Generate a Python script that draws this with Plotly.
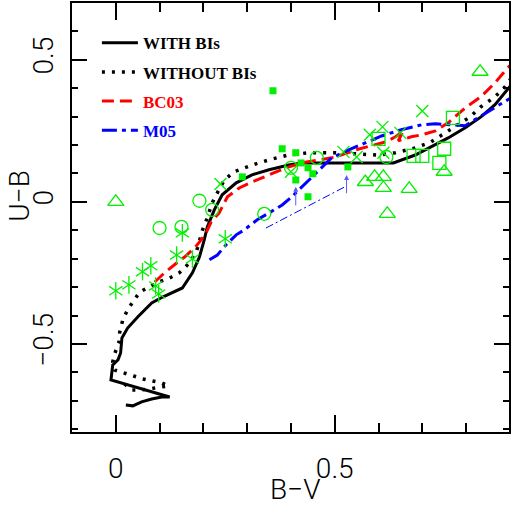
import plotly.graph_objects as go

# ---- model tracks in the (B-V, U-B) plane ----
bv_with = [0.023, 0.039, 0.059, 0.082, 0.105, 0.123, -0.011, -0.007, 0.005, 0.011,
           0.014, 0.027, 0.050, 0.082, 0.107, 0.130, 0.152, 0.175, 0.191, 0.202,
           0.209, 0.225, 0.243, 0.275, 0.311, 0.350, 0.395, 0.425, 0.502, 0.634,
           0.684, 0.720, 0.759, 0.798, 0.834, 0.866, 0.889, 0.918]
ub_with = [-0.715, -0.718, -0.704, -0.694, -0.687, -0.687, -0.627, -0.574, -0.556, -0.532,
           -0.479, -0.444, -0.405, -0.356, -0.335, -0.320, -0.303, -0.250, -0.194, -0.134,
           -0.088, -0.028, 0.025, 0.067, 0.095, 0.113, 0.130, 0.137, 0.137, 0.137,
           0.165, 0.194, 0.225, 0.261, 0.299, 0.342, 0.384, 0.440]

bv_without = [0.020, 0.036, 0.059, 0.077, 0.100, 0.120, 0.105, 0.082, 0.061, 0.041,
              0.020, -0.002, -0.007, -0.002, 0.007, 0.009, 0.016, 0.027, 0.039, 0.055,
              0.093, 0.123, 0.145, 0.168, 0.184, 0.198, 0.209, 0.220, 0.232, 0.248,
              0.270, 0.298, 0.320, 0.357, 0.395, 0.441, 0.502, 0.548, 0.600, 0.639,
              0.684, 0.720, 0.752, 0.782, 0.809, 0.834, 0.866, 0.889, 0.907]
ub_without = [-0.641, -0.662, -0.662, -0.658, -0.651, -0.648, -0.637, -0.630, -0.623, -0.613,
              -0.602, -0.592, -0.563, -0.532, -0.496, -0.458, -0.415, -0.380, -0.352, -0.317,
              -0.285, -0.268, -0.250, -0.215, -0.176, -0.099, -0.056, -0.004, 0.032, 0.077,
              0.106, 0.123, 0.134, 0.151, 0.165, 0.173, 0.173, 0.169, 0.165, 0.173,
              0.190, 0.211, 0.243, 0.271, 0.299, 0.335, 0.370, 0.405, 0.444]

bv_bc03 = [0.089, 0.111, 0.139, 0.157, 0.180, 0.195, 0.207, 0.218, 0.236, 0.243,
           0.255, 0.282, 0.311, 0.350, 0.389, 0.425, 0.464, 0.502, 0.548, 0.577,
           0.616, 0.639, 0.657, 0.645, 0.675, 0.698, 0.730, 0.759, 0.798, 0.834,
           0.866, 0.895, 0.914]
ub_bc03 = [-0.282, -0.250, -0.215, -0.194, -0.162, -0.134, -0.106, -0.070, -0.039, -0.018,
           0.018, 0.049, 0.070, 0.095, 0.120, 0.137, 0.148, 0.158, 0.183, 0.194,
           0.211, 0.229, 0.250, 0.215, 0.229, 0.236, 0.250, 0.278, 0.331, 0.370,
           0.419, 0.472, 0.500]

bv_m05 = [0.214, 0.232, 0.252, 0.275, 0.293, 0.323, 0.350, 0.380, 0.402, 0.418,
          0.457, 0.493, 0.532, 0.577, 0.607, 0.652, 0.698, 0.730, 0.764, 0.798,
          0.827, 0.857, 0.889, 0.914]
ub_m05 = [-0.204, -0.187, -0.151, -0.116, -0.099, -0.063, -0.039, -0.011, 0.018, 0.042,
          0.102, 0.155, 0.183, 0.211, 0.232, 0.254, 0.271, 0.275, 0.271, 0.268,
          0.296, 0.324, 0.352, 0.377]

# thin M05 branch and the two shift arrows
bv_m05_thin = [0.343, 0.527]
ub_m05_thin = [-0.092, 0.056]
arrow_bv = [0.411, 0.527]
arrow_ub_from = [-0.018, 0.025]
arrow_ub_to = [0.053, 0.095]

# ---- observed clusters ----
bv_filled_sq = [0.359, 0.289, 0.380, 0.411, 0.423, 0.439, 0.450, 0.411, 0.439, 0.530]
ub_filled_sq = [0.391, 0.088, 0.187, 0.173, 0.137, 0.120, 0.099, 0.077, 0.018, 0.123]

bv_tri = [0.000, 0.832, 0.570, 0.591, 0.611, 0.611, 0.670, 0.620, 0.750]
ub_tri = [0.000, 0.458, 0.070, 0.088, 0.088, 0.049, 0.046, -0.042, 0.106]

bv_circ = [0.191, 0.220, 0.100, 0.150, 0.339, 0.400, 0.459, 0.618]
ub_circ = [0.004, -0.028, -0.092, -0.088, -0.042, 0.120, 0.155, 0.158]

bv_star = [0.000, 0.030, 0.061, 0.080, 0.091, 0.098, 0.139, 0.152, 0.175, 0.250]
ub_star = [-0.313, -0.292, -0.246, -0.225, -0.296, -0.324, -0.187, -0.109, -0.201, -0.130]

bv_cross = [0.239, 0.700, 0.609, 0.580, 0.650, 0.520, 0.550, 0.611, 0.400]
ub_cross = [0.063, 0.320, 0.264, 0.236, 0.243, 0.176, 0.158, 0.173, 0.106]

bv_open_sq = [0.600, 0.770, 0.680, 0.700, 0.750, 0.739]
ub_open_sq = [0.222, 0.296, 0.162, 0.162, 0.187, 0.137]

GREEN = "rgb(0,240,0)"
TICK_FONT = dict(family="Roboto", size=28, color="black", weight=300)

fig = go.Figure()

# model curves
fig.add_trace(go.Scatter(x=bv_with, y=ub_with, mode="lines", name="WITH BIs",
                         legendgroup="a", line=dict(color="black", width=3)))
fig.add_trace(go.Scatter(x=bv_without, y=ub_without, mode="lines", name="WITHOUT BIs",
                         legendgroup="b", line=dict(color="black", width=3.5, dash="3px,7px")))
fig.add_trace(go.Scatter(x=bv_bc03, y=ub_bc03, mode="lines",
                         name='<span style="color:red">BC03</span>',
                         legendgroup="c", line=dict(color="red", width=3, dash="12px,6px")))
fig.add_trace(go.Scatter(x=bv_m05, y=ub_m05, mode="lines",
                         name='<span style="color:blue">M05</span>',
                         legendgroup="d", line=dict(color="blue", width=3, dash="15px,5px,4px,5px")))
fig.add_trace(go.Scatter(x=bv_m05_thin, y=ub_m05_thin, mode="lines", showlegend=False,
                         line=dict(color="blue", width=1, dash="8px,3px,2px,3px")))

# observed points
def pts(x, y, symbol, size, filled=False):
    fig.add_trace(go.Scatter(
        x=x, y=y, mode="markers", showlegend=False,
        marker=dict(symbol=symbol, size=size, color=GREEN,
                    line=dict(color=GREEN, width=1.3 if not filled else 0))))

pts(bv_tri, ub_tri, "triangle-up-open", 14)
pts(bv_circ, ub_circ, "circle-open", 13)
pts(bv_open_sq, ub_open_sq, "square-open", 13)
pts(bv_cross, ub_cross, "x-thin-open", 12)
pts(bv_star, ub_star, "y-up-open", 11)
pts(bv_star, ub_star, "y-down-open", 11)
pts(bv_filled_sq, ub_filled_sq, "square", 7, filled=True)

for xa, y0, y1 in zip(arrow_bv, arrow_ub_from, arrow_ub_to):
    fig.add_annotation(x=xa, y=y1, ax=xa, ay=y0, xref="x", yref="y", axref="x", ayref="y",
                       showarrow=True, arrowhead=2, arrowsize=1, arrowwidth=1,
                       arrowcolor="rgb(90,90,255)", text="")

axis_common = dict(showgrid=False, zeroline=False, showline=True, linecolor="black",
                   linewidth=2, mirror="ticks", ticks="inside", tickcolor="black",
                   tickwidth=1.5, tickfont=TICK_FONT)

fig.update_xaxes(range=[-0.1, 0.898], tick0=0, dtick=0.5, ticklen=17,
                 ticklabelstandoff=10,
                 minor=dict(dtick=0.1, ticks="inside", ticklen=9, tickwidth=1.5,
                            tickcolor="black"),
                 **axis_common)
fig.update_yaxes(range=[-0.81, 0.70], tick0=0, dtick=0.5, ticklen=15,
                 tickangle=-90, ticklabelstandoff=6,
                 minor=dict(dtick=0.1, ticks="inside", ticklen=6, tickwidth=1.5,
                            tickcolor="black"),
                 **axis_common)

fig.add_annotation(text="B−V", xref="paper", yref="paper", x=0.51, y=-0.135,
                   showarrow=False, font=TICK_FONT, yanchor="middle")
fig.add_annotation(text="U−B", xref="paper", yref="paper", x=-0.121, y=0.551,
                   showarrow=False, font=TICK_FONT, textangle=-90,
                   xanchor="center", yanchor="middle")

fig.update_layout(
    width=511, height=513,
    margin=dict(l=72, r=0, t=3, b=81),
    plot_bgcolor="white", paper_bgcolor="white",
    legend=dict(x=0.057, y=0.948, xanchor="left", yanchor="top",
                bgcolor="rgba(0,0,0,0)", borderwidth=0, itemwidth=36,
                traceorder="grouped", tracegroupgap=4,
                font=dict(family="Liberation Serif", size=17, color="black", weight="bold")),
)

fig.write_html("out.html")
